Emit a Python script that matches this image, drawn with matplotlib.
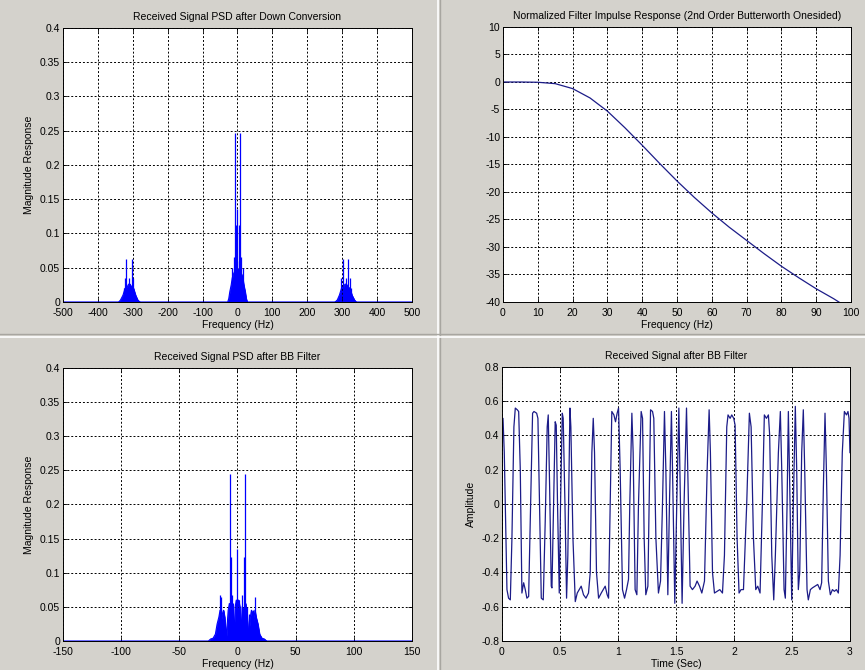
import matplotlib
matplotlib.use("Agg")
import matplotlib.pyplot as plt
from matplotlib.lines import Line2D
from matplotlib.ticker import FuncFormatter

plt.rcParams['font.family'] = ['Liberation Sans', 'DejaVu Sans']
plt.rcParams['font.size'] = 7.5

# ---- received PSD after down conversion (top left) ----
# baseband cluster: filled envelope + tall spectral lines
dc_env_f = [-500, -28, -25, -22, -18, -15, -12, -8, -4, 0, 4, 8, 12, 15, 18, 22, 25, 28, 500]
dc_env_h = [0, 0, 0.005, 0.015, 0.025, 0.035, 0.040, 0.045, 0.047, 0.048, 0.047, 0.045, 0.040, 0.035, 0.025, 0.015, 0.005, 0, 0]
dc_spk_f = [-15, -9, -6.3, -5.5, -3, 0, 3, 5.5, 6.3, 9, 15]
dc_spk_h = [0.050, 0.065, 0.247, 0.113, 0.060, 0.135, 0.060, 0.113, 0.247, 0.065, 0.050]
# images at -310 Hz and +310 Hz
img_l_f = [-340, -335, -328, -322, -316, -312, -308, -304, -298, -292, -286, -280]
img_l_h = [0, 0.003, 0.010, 0.020, 0.022, 0.026, 0.026, 0.022, 0.020, 0.010, 0.003, 0]
img_l_spk_f = [-325, -322, -318, -310, -302, -298]
img_l_spk_h = [0.020, 0.035, 0.062, 0.035, 0.062, 0.035]
img_r_f = [280, 286, 292, 298, 304, 308, 312, 316, 322, 328, 335, 340]
img_r_h = [0, 0.003, 0.010, 0.020, 0.022, 0.026, 0.026, 0.022, 0.020, 0.010, 0.003, 0]
img_r_spk_f = [298, 302, 310, 318, 322, 325]
img_r_spk_h = [0.035, 0.062, 0.035, 0.062, 0.035, 0.020]

# ---- filter response (top right) ----
filt_f = [0, 5, 10, 15, 20, 25, 30, 35, 40, 45, 50, 55, 60, 65, 70, 75, 80, 85, 90, 95, 97]
filt_db = [0, 0, -0.05, -0.3, -1.2, -2.9, -5.3, -8.3, -11.5, -14.8, -18.0, -21.0, -23.8,
           -26.4, -28.8, -31.2, -33.5, -35.6, -37.6, -39.4, -40.2]

# ---- PSD after BB filter (bottom left) ----
bb_env_f = [-150, -25, -23, -21, -19, -17.5, -16, -15, -14, -13, -12, -11, -10, -9.5, -9, -8, -7, -6,
            -5, -4, -3.5, -3, -2.5, -2, -1, 0, 1, 2, 2.5, 3, 3.5, 4, 5, 6, 7, 8, 9, 9.5, 10, 11,
            12, 13, 14, 15, 16, 17.5, 19, 21, 23, 25, 150]
bb_env_h = [0, 0, 0.003, 0.004, 0.010, 0.025, 0.035, 0.045, 0.030, 0.040, 0.045, 0.035, 0.015, 0.005,
            0.020, 0.045, 0.055, 0.050, 0.045, 0.050, 0.030, 0.005, 0.030, 0.050, 0.060, 0.055,
            0.060, 0.050, 0.030, 0.005, 0.030, 0.050, 0.045, 0.050, 0.055, 0.045, 0.020, 0.005,
            0.015, 0.035, 0.045, 0.040, 0.030, 0.045, 0.035, 0.025, 0.010, 0.004, 0.003, 0, 0]
bb_spk_f = [-15.0, -13.8, -12.4, -6.4, -5.6, -4.3, -3.7, -1.4, 0, 1.4, 4.0, 5.5, 6.3, 7.8, 10.1, 13.5, 15.0]
bb_spk_h = [0.068, 0.065, 0.045, 0.245, 0.123, 0.067, 0.055, 0.060, 0.135, 0.060, 0.067, 0.123,
            0.245, 0.050, 0.040, 0.045, 0.065]

# ---- time signal after BB filter (bottom right) ----
t_sig = [0.000, 0.009, 0.020, 0.043, 0.057, 0.072, 0.086, 0.103, 0.115, 0.132, 0.144, 0.158, 0.172,
         0.187, 0.201, 0.215, 0.230, 0.247, 0.264, 0.276, 0.299, 0.310, 0.324, 0.339, 0.356, 0.373,
         0.390, 0.399, 0.411, 0.425, 0.431, 0.445, 0.459, 0.468, 0.479, 0.494, 0.505, 0.520, 0.528,
         0.543, 0.557, 0.568, 0.586, 0.594, 0.612, 0.632, 0.649, 0.666, 0.683, 0.703, 0.724, 0.746,
         0.761, 0.775, 0.787, 0.798, 0.815, 0.833, 0.856, 0.873, 0.890, 0.907, 0.919, 0.933, 0.947,
         0.965, 0.979, 0.993, 1.005, 1.019, 1.039, 1.057, 1.074, 1.091, 1.102, 1.120, 1.131, 1.148,
         1.163, 1.177, 1.200, 1.212, 1.226, 1.240, 1.258, 1.269, 1.281, 1.298, 1.309, 1.327, 1.349,
         1.367, 1.384, 1.401, 1.413, 1.430, 1.444, 1.461, 1.473, 1.490, 1.507, 1.525, 1.536, 1.553,
         1.570, 1.591, 1.602, 1.622, 1.642, 1.665, 1.682, 1.703, 1.723, 1.746, 1.769, 1.786, 1.797,
         1.815, 1.832, 1.855, 1.878, 1.901, 1.918, 1.938, 1.949, 1.967, 1.981, 1.998, 2.010, 2.027,
         2.044, 2.061, 2.082, 2.110, 2.133, 2.148, 2.168, 2.188, 2.205, 2.225, 2.245, 2.262, 2.280,
         2.297, 2.308, 2.326, 2.343, 2.357, 2.383, 2.400, 2.412, 2.432, 2.443, 2.458, 2.469, 2.481,
         2.498, 2.512, 2.529, 2.541, 2.555, 2.567, 2.584, 2.598, 2.610, 2.630, 2.641, 2.659, 2.676,
         2.699, 2.722, 2.742, 2.756, 2.771, 2.785, 2.797, 2.814, 2.831, 2.849, 2.866, 2.883, 2.900,
         2.915, 2.934, 2.952, 2.970, 2.983, 2.992, 3.000]
a_sig = [0.35, 0.50, 0.30, -0.50, -0.55, -0.56, -0.20, 0.45, 0.56, 0.55, 0.54, 0.20, -0.52,
         -0.46, -0.50, -0.55, -0.54, 0.00, 0.53, 0.54, 0.53, 0.50, 0.00, -0.55, -0.56, -0.10,
         0.45, 0.52, 0.10, -0.48, -0.49, 0.00, 0.48, 0.46, 0.00, -0.52, 0.00, 0.53, 0.50,
         0.00, -0.55, -0.30, 0.56, 0.45, -0.20, -0.57, -0.52, -0.50, -0.48, -0.53, -0.55, -0.52,
         -0.40, 0.30, 0.50, 0.30, -0.40, -0.55, -0.52, -0.50, -0.48, -0.53, -0.55, 0.00, 0.54,
         0.52, 0.48, 0.53, 0.56, 0.20, -0.50, -0.55, -0.50, -0.44, 0.00, 0.53, 0.30, -0.50,
         -0.53, 0.00, 0.54, 0.50, -0.20, -0.53, -0.48, 0.00, 0.55, 0.54, 0.50, -0.20, -0.52,
         -0.45, 0.00, 0.54, 0.20, -0.53, 0.00, 0.54, 0.10, -0.58, 0.00, 0.56, 0.10, -0.58,
         0.00, 0.56, 0.20, -0.48, -0.50, -0.48, -0.45, -0.48, -0.52, -0.45, 0.20, 0.55, 0.30,
         -0.40, -0.52, -0.51, -0.50, -0.52, -0.30, 0.45, 0.52, 0.50, 0.52, 0.50, 0.46, -0.20,
         -0.52, -0.50, -0.50, 0.00, 0.53, 0.45, -0.20, -0.50, -0.48, -0.52, 0.00, 0.52, 0.50,
         0.52, 0.40, -0.30, -0.56, -0.30, 0.30, 0.54, 0.20, -0.50, -0.55, 0.00, 0.54, 0.10,
         -0.56, 0.00, 0.57, 0.20, -0.50, -0.40, 0.30, 0.55, 0.20, -0.50, -0.56, -0.50, -0.49,
         -0.48, -0.47, -0.50, -0.46, 0.10, 0.53, 0.20, -0.45, -0.53, -0.50, -0.51, -0.50, -0.52,
         -0.30, 0.30, 0.54, 0.52, 0.54, 0.50, 0.30]

BG = '#d4d2cc'
PSD_BLUE = '#0000ff'
LINE_BLUE = '#1c1c88'
fmt = FuncFormatter(lambda v, p: '%g' % round(v, 4))


def style(ax, title, xlabel, ylabel, xticks, yticks):
    ax.set_facecolor('white')
    ax.set_xlim(xticks[0], xticks[-1])
    ax.set_ylim(yticks[0], yticks[-1])
    ax.set_xticks(xticks)
    ax.set_yticks(yticks)
    ax.xaxis.set_major_formatter(fmt)
    ax.yaxis.set_major_formatter(fmt)
    ax.tick_params(direction='in', length=3, width=0.6, top=True, right=True, labelsize=7.5)
    ax.tick_params(axis='x', pad=4)
    ax.tick_params(axis='y', pad=2)
    ax.grid(True, color='black', linestyle=(0, (2, 2)), linewidth=0.7)
    for s in ax.spines.values():
        s.set_linewidth(0.7)
    ax.set_title(title, fontsize=7.5, pad=6)
    ax.set_xlabel(xlabel, fontsize=7.5, labelpad=1.5)
    if ylabel:
        ax.set_ylabel(ylabel, fontsize=7.5, labelpad=4)


fig = plt.figure(figsize=(8.65, 6.7), dpi=100, facecolor=BG)

# panel dividers
fig.add_artist(Line2D([0.506, 0.506], [0, 1], color='white', lw=1.2))
fig.add_artist(Line2D([0.509, 0.509], [0, 1], color='#a8a6a0', lw=1.0))
fig.add_artist(Line2D([0, 1], [0.501, 0.501], color='#a8a6a0', lw=1.0))
fig.add_artist(Line2D([0, 1], [0.497, 0.497], color='white', lw=1.2))

ax1 = fig.add_axes([0.0728, 0.5493, 0.4035, 0.409])
ax2 = fig.add_axes([0.5815, 0.5493, 0.4023, 0.4104])
ax3 = fig.add_axes([0.0728, 0.0433, 0.4035, 0.4075])
ax4 = fig.add_axes([0.5803, 0.0433, 0.4023, 0.409])

y_psd = [0, 0.05, 0.1, 0.15, 0.2, 0.25, 0.3, 0.35, 0.4]

# top left
for ef, eh in [(dc_env_f, dc_env_h), (img_l_f, img_l_h), (img_r_f, img_r_h)]:
    ax1.fill_between(ef, 0, eh, color=PSD_BLUE, lw=0.6)
    ax1.plot(ef, eh, color=PSD_BLUE, lw=0.8)
for sf, sh in [(dc_spk_f, dc_spk_h), (img_l_spk_f, img_l_spk_h), (img_r_spk_f, img_r_spk_h)]:
    ax1.vlines(sf, 0, sh, color=PSD_BLUE, lw=0.9)
style(ax1, 'Received Signal PSD after Down Conversion', 'Frequency (Hz)', 'Magnitude Response',
      list(range(-500, 501, 100)), y_psd)

# top right
ax2.plot(filt_f, filt_db, color=LINE_BLUE, lw=0.9)
style(ax2, 'Normalized Filter Impulse Response (2nd Order Butterworth Onesided)', 'Frequency (Hz)', None,
      list(range(0, 101, 10)), list(range(-40, 11, 5)))

# bottom left
ax3.fill_between(bb_env_f, 0, bb_env_h, color=PSD_BLUE, lw=0.6)
ax3.plot(bb_env_f, bb_env_h, color=PSD_BLUE, lw=0.8)
ax3.vlines(bb_spk_f, 0, bb_spk_h, color=PSD_BLUE, lw=0.9)
style(ax3, 'Received Signal PSD after BB Filter', 'Frequency (Hz)', 'Magnitude Response',
      list(range(-150, 151, 50)), y_psd)

# bottom right
ax4.plot(t_sig, a_sig, color=LINE_BLUE, lw=0.9)
style(ax4, 'Received Signal after BB Filter', 'Time (Sec)', 'Amplitude',
      [0, 0.5, 1, 1.5, 2, 2.5, 3], [-0.8, -0.6, -0.4, -0.2, 0, 0.2, 0.4, 0.6, 0.8])

fig.savefig('out.png', dpi=100, facecolor=BG)
